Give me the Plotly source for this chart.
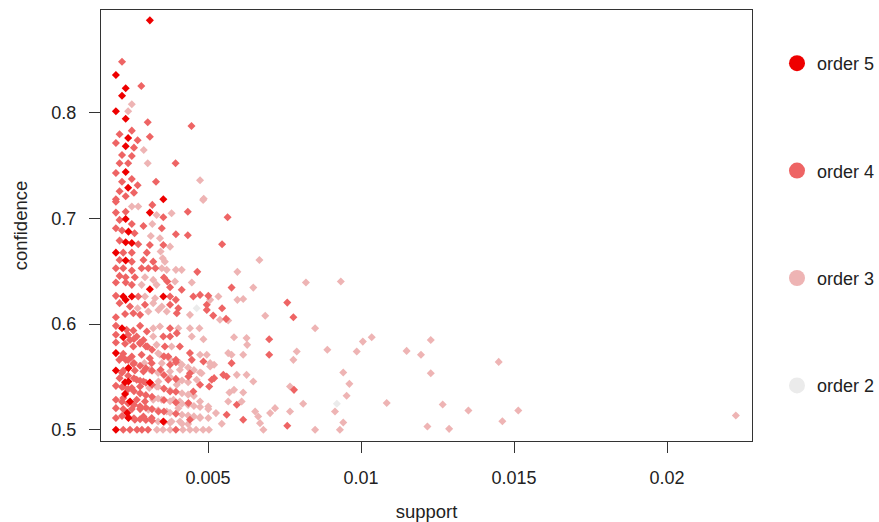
import plotly.graph_objects as go

# ---- data: (support, confidence), grouped by rule order ----
order5_support = [0.00310, 0.00199, 0.00231, 0.00219, 0.00199, 0.00231, 0.00239, 0.00231, 0.00231, 0.00239,
                  0.00354, 0.00310, 0.00231, 0.00240, 0.00231, 0.00251, 0.00199, 0.00231, 0.00310, 0.00223,
                  0.00251, 0.00354, 0.00231, 0.00219, 0.00223, 0.00199, 0.00199, 0.00240, 0.00240, 0.00310,
                  0.00245, 0.00240, 0.00354, 0.00199, 0.00229, 0.00229, 0.00236]
order5_confidence = [0.8876, 0.8359, 0.8233, 0.8163, 0.8015, 0.7945, 0.7763, 0.7684, 0.7441, 0.7292,
                     0.7183, 0.7056, 0.6996, 0.6876, 0.6776, 0.6769, 0.6677, 0.6602, 0.6331, 0.6261,
                     0.6261, 0.6261, 0.6230, 0.5962, 0.5877, 0.5726, 0.5561, 0.5584, 0.5457, 0.5447,
                     0.5268, 0.5111, 0.5079, 0.5000, 0.5450, 0.5340, 0.5160]

order4_support = [0.00219, 0.00282, 0.00303, 0.00446, 0.00251, 0.00211, 0.00310, 0.00270, 0.00199, 0.00258,
                  0.00219, 0.00251, 0.00211, 0.00239, 0.00394, 0.00199, 0.00219, 0.00251, 0.00270, 0.00330,
                  0.00211, 0.00258, 0.00231, 0.00199, 0.00564,
                  0.00199, 0.00318, 0.00199, 0.00231, 0.00354, 0.00434, 0.00211, 0.00251, 0.00289, 0.00349,
                  0.00199, 0.00219, 0.00260, 0.00395, 0.00434, 0.00211, 0.00272, 0.00310, 0.00354, 0.00546,
                  0.00223, 0.00251, 0.00300, 0.00211, 0.00251, 0.00289, 0.00321, 0.00199, 0.00223, 0.00251,
                  0.00283, 0.00305, 0.00328, 0.00465, 0.00211, 0.00231, 0.00261, 0.00356, 0.00367, 0.00199,
                  0.00231, 0.00251, 0.00376, 0.00414, 0.00577, 0.00199, 0.00272, 0.00376, 0.00395, 0.00452,
                  0.00474, 0.00501, 0.00759, 0.00211, 0.00245, 0.00294, 0.00376, 0.00403, 0.00496, 0.00199,
                  0.00229, 0.00256, 0.00278, 0.00398, 0.00496, 0.00517, 0.00546, 0.00559, 0.00779, 0.00199,
                  0.00234, 0.00256, 0.00278, 0.00300, 0.00376, 0.00199, 0.00245, 0.00267, 0.00289, 0.00354,
                  0.00376, 0.00398, 0.00700, 0.00199, 0.00229, 0.00256, 0.00278, 0.00302, 0.00359, 0.00408,
                  0.00223, 0.00251, 0.00283, 0.00310, 0.00370, 0.00395, 0.00441, 0.00700, 0.00210, 0.00231,
                  0.00256, 0.00316, 0.00376, 0.00447, 0.00485, 0.00577, 0.00223, 0.00261, 0.00289, 0.00345,
                  0.00441, 0.00550, 0.00561, 0.00211, 0.00267, 0.00289, 0.00370, 0.00436, 0.00512, 0.00520,
                  0.00199, 0.00223, 0.00251, 0.00278, 0.00376, 0.00452, 0.00474, 0.00504, 0.00781, 0.00199,
                  0.00223, 0.00267, 0.00294, 0.00436, 0.00594, 0.00199, 0.00223, 0.00251, 0.00278, 0.00338,
                  0.00561, 0.00199, 0.00261, 0.00289, 0.00316, 0.00441, 0.00615, 0.00759, 0.00223, 0.00245,
                  0.00268, 0.00284, 0.00304, 0.00395,
                  # dense arcs in the lower-left core
                  0.00219, 0.00239, 0.00258, 0.00278, 0.00297, 0.00317, 0.00356,
                  0.00219, 0.00239, 0.00258, 0.00278, 0.00297, 0.00317, 0.00356, 0.00395,
                  0.00219, 0.00239, 0.00258, 0.00278, 0.00297, 0.00317, 0.00356, 0.00395,
                  0.00219, 0.00239, 0.00258, 0.00278, 0.00297, 0.00317, 0.00356, 0.00395,
                  0.00219, 0.00239, 0.00258, 0.00278, 0.00297, 0.00317, 0.00356, 0.00395,
                  0.00239, 0.00258, 0.00278, 0.00297, 0.00317, 0.00356, 0.00395]
order4_confidence = [0.8484, 0.8254, 0.7911, 0.7876, 0.7832, 0.7798, 0.7775, 0.7741, 0.7715, 0.7671,
                     0.7602, 0.7592, 0.7523, 0.7523, 0.7523, 0.7431, 0.7349, 0.7375, 0.7315, 0.7349,
                     0.7258, 0.7245, 0.7211, 0.7183, 0.7012,
                     0.7160, 0.7129, 0.7056, 0.7065, 0.7012, 0.7065, 0.6987, 0.6949, 0.6930, 0.6908,
                     0.6908, 0.6886, 0.6861, 0.6851, 0.6842, 0.6791, 0.6757, 0.6750, 0.6750, 0.6757,
                     0.6677, 0.6677, 0.6677, 0.6608, 0.6592, 0.6608, 0.6592, 0.6530, 0.6530, 0.6507,
                     0.6530, 0.6530, 0.6530, 0.6495, 0.6457, 0.6445, 0.6445, 0.6441, 0.6403, 0.6394,
                     0.6394, 0.6372, 0.6350, 0.6325, 0.6346, 0.6268, 0.6261, 0.6261, 0.6230, 0.6261,
                     0.6277, 0.6268, 0.6204, 0.6199, 0.6167, 0.6183, 0.6183, 0.6151, 0.6183, 0.6066,
                     0.6097, 0.6104, 0.6088, 0.6104, 0.6135, 0.6081, 0.6151, 0.6050, 0.6066, 0.5984,
                     0.5946, 0.5939, 0.5984, 0.5930, 0.5962, 0.5899, 0.5851, 0.5883, 0.5851, 0.5883,
                     0.5883, 0.5915, 0.5858, 0.5826, 0.5814, 0.5788, 0.5814, 0.5788, 0.5788, 0.5788,
                     0.5719, 0.5693, 0.5710, 0.5678, 0.5693, 0.5662, 0.5726, 0.5710, 0.5662, 0.5662,
                     0.5624, 0.5631, 0.5615, 0.5662, 0.5646, 0.5631, 0.5561, 0.5561, 0.5552, 0.5568,
                     0.5536, 0.5520, 0.5504, 0.5489, 0.5473, 0.5457, 0.5473, 0.5504, 0.5473, 0.5489,
                     0.5416, 0.5410, 0.5395, 0.5410, 0.5362, 0.5362, 0.5426, 0.5410, 0.5378, 0.5284,
                     0.5300, 0.5284, 0.5268, 0.5253, 0.5237, 0.5205, 0.5196, 0.5196, 0.5196, 0.5173,
                     0.5142, 0.5111, 0.5095, 0.5126, 0.5111, 0.5095, 0.5095, 0.5038, 0.5000, 0.5000,
                     0.5000, 0.5000, 0.5000, 0.5000,
                     0.5130, 0.5120, 0.5110, 0.5100, 0.5092, 0.5085, 0.5073,
                     0.5265, 0.5250, 0.5236, 0.5222, 0.5208, 0.5196, 0.5173, 0.5152,
                     0.5405, 0.5385, 0.5365, 0.5345, 0.5328, 0.5312, 0.5283, 0.5258,
                     0.5540, 0.5512, 0.5488, 0.5465, 0.5445, 0.5426, 0.5390, 0.5360,
                     0.5690, 0.5660, 0.5632, 0.5606, 0.5582, 0.5560, 0.5519, 0.5482,
                     0.5900, 0.5860, 0.5825, 0.5790, 0.5757, 0.5695, 0.5640]

order3_support = [0.00251, 0.00239, 0.00290, 0.00303, 0.00474, 0.00486,
                  0.00251, 0.00272, 0.00484, 0.00332, 0.00381, 0.00318, 0.00313, 0.00343, 0.00376, 0.00345,
                  0.00352, 0.00359, 0.00668, 0.00349, 0.00365, 0.00395, 0.00414, 0.00596, 0.00294, 0.00321,
                  0.00392, 0.00447, 0.00820, 0.00934, 0.00283, 0.00332, 0.00648, 0.00294, 0.00327, 0.00534,
                  0.00596, 0.00615, 0.00270, 0.00321, 0.00349, 0.00507, 0.00305, 0.00338, 0.00365, 0.00441,
                  0.00539, 0.00566, 0.00687, 0.00321, 0.00343, 0.00403, 0.00441, 0.00472, 0.00850, 0.00321,
                  0.00447, 0.00485, 0.00585, 0.00626, 0.01035, 0.01006, 0.00332, 0.00381, 0.00628, 0.00890,
                  0.00986, 0.00343, 0.00474, 0.00496, 0.00566, 0.00577, 0.00615, 0.00790, 0.00292, 0.00349,
                  0.00408, 0.00507, 0.00779, 0.00310, 0.00376, 0.00408, 0.00479, 0.00507, 0.00520, 0.00594,
                  0.00626, 0.00942, 0.00338, 0.00403, 0.00463, 0.00648, 0.00962, 0.00308, 0.00332, 0.00398,
                  0.00570, 0.00585, 0.00615, 0.00768, 0.00953, 0.00321, 0.00349, 0.00387, 0.00408, 0.00474,
                  0.00501, 0.00566, 0.00610, 0.00768, 0.00811, 0.01084, 0.00305, 0.00365, 0.00403, 0.00501,
                  0.00526, 0.00654, 0.00664, 0.00703, 0.00719, 0.00915, 0.00381, 0.00408, 0.00474, 0.00501,
                  0.00545, 0.00670, 0.00942, 0.00333, 0.00353, 0.00376, 0.00418, 0.00441, 0.00461, 0.00484,
                  0.00503, 0.00681, 0.00850, 0.00931,
                  0.01228, 0.01149, 0.01196, 0.01228, 0.01450, 0.01267, 0.01351, 0.01514, 0.01217, 0.01288,
                  0.01462, 0.02225,
                  # dense arcs in the lower-left core
                  0.00337, 0.00376, 0.00415, 0.00435,
                  0.00337, 0.00376, 0.00415, 0.00435, 0.00454, 0.00474,
                  0.00337, 0.00376, 0.00415, 0.00435, 0.00454, 0.00474,
                  0.00337, 0.00376, 0.00415, 0.00435, 0.00454,
                  0.00337, 0.00376, 0.00415, 0.00435,
                  0.00337, 0.00376, 0.00415, 0.00435, 0.00454, 0.00474]
order3_confidence = [0.8081, 0.8015, 0.7649, 0.7523, 0.7362, 0.7188,
                     0.7113, 0.7113, 0.7176, 0.7034, 0.7050, 0.6949, 0.6835, 0.6814, 0.6734, 0.6687,
                     0.6624, 0.6592, 0.6608, 0.6530, 0.6514, 0.6514, 0.6514, 0.6495, 0.6445, 0.6419,
                     0.6403, 0.6394, 0.6394, 0.6403, 0.6372, 0.6372, 0.6346, 0.6261, 0.6246, 0.6261,
                     0.6230, 0.6239, 0.6151, 0.6199, 0.6167, 0.6230, 0.6119, 0.6135, 0.6119, 0.6088,
                     0.6041, 0.6034, 0.6079, 0.5962, 0.5977, 0.5962, 0.5962, 0.5962, 0.5962, 0.5883,
                     0.5883, 0.5858, 0.5877, 0.5868, 0.5877, 0.5835, 0.5804, 0.5788, 0.5804, 0.5757,
                     0.5741, 0.5710, 0.5710, 0.5710, 0.5726, 0.5710, 0.5710, 0.5741, 0.5631, 0.5631,
                     0.5631, 0.5631, 0.5662, 0.5568, 0.5552, 0.5568, 0.5536, 0.5599, 0.5615, 0.5520,
                     0.5520, 0.5542, 0.5457, 0.5457, 0.5473, 0.5457, 0.5435, 0.5395, 0.5410, 0.5426,
                     0.5353, 0.5378, 0.5353, 0.5410, 0.5322, 0.5284, 0.5284, 0.5284, 0.5268, 0.5268,
                     0.5220, 0.5268, 0.5268, 0.5173, 0.5246, 0.5253, 0.5189, 0.5173, 0.5205, 0.5196,
                     0.5158, 0.5173, 0.5126, 0.5158, 0.5205, 0.5173, 0.5079, 0.5079, 0.5111, 0.5111,
                     0.5057, 0.5063, 0.5069, 0.5000, 0.5000, 0.5000, 0.5000, 0.5000, 0.5000, 0.5000,
                     0.5000, 0.5000, 0.5000, 0.5000,
                     0.5851, 0.5747, 0.5710, 0.5536, 0.5643, 0.5239, 0.5183, 0.5183, 0.5031, 0.5009,
                     0.5081, 0.5135,
                     0.5079, 0.5068, 0.5058, 0.5054,
                     0.5184, 0.5162, 0.5143, 0.5135, 0.5127, 0.5120,
                     0.5297, 0.5270, 0.5247, 0.5236, 0.5226, 0.5216,
                     0.5408, 0.5375, 0.5346, 0.5333, 0.5321,
                     0.5539, 0.5500, 0.5466, 0.5450,
                     0.5725, 0.5668, 0.5615, 0.5590, 0.5565, 0.5542]

order2_support = [0.00463, 0.00921]
order2_confidence = [0.6151, 0.5246]

orders = ["order 2", "order 3", "order 4", "order 5"]
colors = ["#EBEBEB", "#EEB4B4", "#EE6464", "#EE0000"]
series = [(order2_support, order2_confidence),
          (order3_support, order3_confidence),
          (order4_support, order4_confidence),
          (order5_support, order5_confidence)]

x_ticks = [0.005, 0.01, 0.015, 0.02]
x_tick_labels = ["0.005", "0.01", "0.015", "0.02"]
y_ticks = [0.5, 0.6, 0.7, 0.8]
y_tick_labels = ["0.5", "0.6", "0.7", "0.8"]

FONT = "Liberation Sans, Arial, sans-serif"
TXT = "#222222"
fig = go.Figure()
for name, col, (xs, ys) in zip(orders, colors, series):
    fig.add_trace(go.Scatter(x=xs, y=ys, mode="markers", name=name, showlegend=False,
                             marker=dict(symbol="diamond", size=6.2, color=col, line=dict(width=0)),
                             hoverinfo="x+y+name"))
# legend entries (circles, as in the original), top to bottom: order 5 .. order 2
for name, col in list(zip(orders, colors))[::-1]:
    fig.add_trace(go.Scatter(x=[None], y=[None], mode="markers", name=name, legendgroup=name,
                             marker=dict(symbol="circle", size=16, color=col)))

axis_common = dict(showline=True, mirror=True, linecolor="#333333", linewidth=1,
                   ticks="outside", ticklen=11, tickcolor="#333333", tickwidth=1,
                   showgrid=False, zeroline=False,
                   tickfont=dict(family=FONT, size=18, color=TXT))
fig.update_layout(
    width=879, height=522,
    margin=dict(l=101, r=127, t=10, b=81, autoexpand=False),
    paper_bgcolor="white", plot_bgcolor="white",
    font=dict(family=FONT, size=18, color=TXT),
    xaxis=dict(range=[0.001503, 0.022778], tickvals=x_ticks, ticktext=x_tick_labels,
               ticklabelstandoff=9,
               title=dict(text="support", font=dict(family=FONT, size=18.5, color=TXT), standoff=18),
               **axis_common),
    yaxis=dict(range=[0.4894, 0.8974], tickvals=y_ticks, ticktext=y_tick_labels,
               ticklabelstandoff=9,
               title=dict(text="confidence", font=dict(family=FONT, size=18.5, color=TXT), standoff=18),
               **axis_common),
    legend=dict(x=1.0384, y=0.9188, xanchor="left", yanchor="top", traceorder="grouped",
                tracegroupgap=81, font=dict(family=FONT, size=18, color=TXT),
                bgcolor="rgba(0,0,0,0)", itemclick=False, itemdoubleclick=False),
)
# remove the page's default 8px body margin so the figure fills the window exactly
fig.write_html("out.html",
               config={"displayModeBar": False},
               post_script="document.body.style.margin='0px';document.body.style.overflow='hidden';")
